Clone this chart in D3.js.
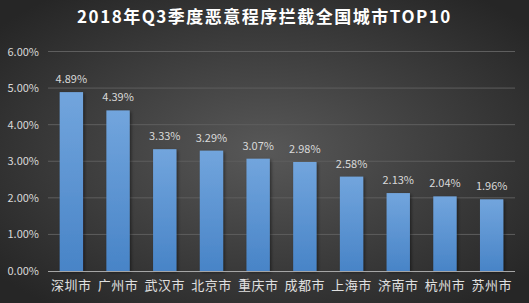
<!DOCTYPE html>
<html>
<head>
<meta charset="utf-8">
<script src="https://cdn.jsdelivr.net/npm/d3@7"></script>
<style>
  body { margin: 0; background: #333; }
  svg { display: block; }
</style>
</head>
<body>
<div id="chart"></div>
<script>
const cities = ["深圳市", "广州市", "武汉市", "北京市", "重庆市", "成都市", "上海市", "济南市", "杭州市", "苏州市"];
const rates = [4.89, 4.39, 3.33, 3.29, 3.07, 2.98, 2.58, 2.13, 2.04, 1.96];
const ticks = [0, 1, 2, 3, 4, 5, 6];
const title = "2018年Q3季度恶意程序拦截全国城市TOP10";

let width = 529,
    height = 303;
const margin = {left: 48, right: 14, top: 51.5, bottom: 32};
const font = "'Microsoft YaHei', 'Noto Sans CJK SC', sans-serif";

const svg = d3.select("#chart").append("svg")
  .attr("width", width)
  .attr("height", height);

const defs = svg.append("defs");
const bg = defs.append("radialGradient").attr("id", "bg")
  .attr("cx", "50%").attr("cy", "50%").attr("r", "65%");
bg.append("stop").attr("offset", "0%").attr("stop-color", "#585858");
bg.append("stop").attr("offset", "100%").attr("stop-color", "#262626");

const barGrad = defs.append("linearGradient").attr("id", "bar")
  .attr("x1", 0).attr("y1", 0).attr("x2", 0).attr("y2", 1);
barGrad.append("stop").attr("offset", "0%").attr("stop-color", "#72a5dd");
barGrad.append("stop").attr("offset", "100%").attr("stop-color", "#4884c7");

const shadow = defs.append("filter").attr("id", "shadow")
  .attr("x", "-20%").attr("y", "-20%").attr("width", "150%").attr("height", "150%");
shadow.append("feDropShadow").attr("dx", 1.5).attr("dy", 1.5).attr("stdDeviation", 1.5)
  .attr("flood-color", "#000").attr("flood-opacity", 0.45);

svg.append("rect").attr("width", width).attr("height", height).attr("fill", "url(#bg)");

const x = d3.scaleBand()
  .domain(cities)
  .range([margin.left, width - margin.right])
  .paddingInner(0.5)
  .paddingOuter(0.25);

const y = d3.scaleLinear()
  .domain([0, 6])
  .range([height - margin.bottom, margin.top]);

// gridlines
svg.append("g")
  .selectAll("line")
  .data(ticks.filter(d => d > 0))
  .enter()
  .append("line")
  .attr("x1", margin.left)
  .attr("x2", width - margin.right)
  .attr("y1", d => y(d))
  .attr("y2", d => y(d))
  .style("stroke", "#5e5e5e")
  .style("stroke-width", 1);

// y axis labels
const yAxis = svg.append("g")
  .attr("transform", `translate(${margin.left}, 0)`)
  .call(d3.axisLeft(y).tickValues(ticks).tickFormat(d => d.toFixed(2) + "%").tickSize(0).tickPadding(9));
yAxis.select(".domain").remove();
yAxis.selectAll("text")
  .style("font-family", font)
  .style("font-size", "11px")
  .style("fill", "#d9d9d9");

// bars
svg.append("g")
  .selectAll("rect")
  .data(rates)
  .enter()
  .append("rect")
  .attr("x", (d, i) => x(cities[i]))
  .attr("y", d => y(d))
  .attr("width", x.bandwidth())
  .attr("height", d => y(0) - y(d))
  .attr("fill", "url(#bar)")
  .attr("filter", "url(#shadow)");

// value labels
svg.append("g")
  .selectAll("text")
  .data(rates)
  .enter()
  .append("text")
  .attr("x", (d, i) => x(cities[i]) + x.bandwidth() / 2)
  .attr("y", d => y(d) - 9)
  .attr("text-anchor", "middle")
  .style("font-family", font)
  .style("font-size", "11px")
  .style("fill", "#d9d9d9")
  .text(d => d.toFixed(2) + "%");

// x axis
const xAxis = svg.append("g")
  .attr("transform", `translate(0, ${y(0)})`)
  .call(d3.axisBottom(x).tickSize(0).tickPadding(10));
xAxis.select(".domain")
  .attr("d", `M${margin.left},0.5H${width - margin.right}`)
  .style("stroke", "#a6a6a6");
xAxis.selectAll("text")
  .style("font-family", font)
  .style("font-size", "13px")
  .style("letter-spacing", "0.5px")
  .style("fill", "#e0e0e0");

// title
svg.append("text")
  .attr("x", width / 2)
  .attr("y", 23)
  .attr("text-anchor", "middle")
  .style("font-family", font)
  .style("font-size", "17px")
  .style("font-weight", "bold")
  .style("letter-spacing", "1.5px")
  .style("fill", "#ffffff")
  .text(title);
</script>
</body>
</html>
